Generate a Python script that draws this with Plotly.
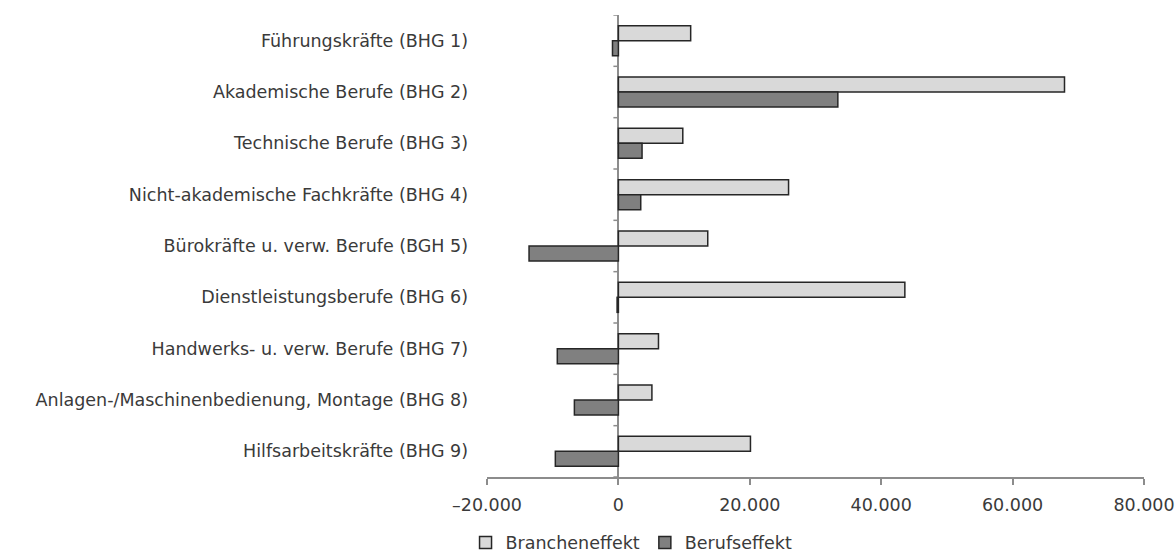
import plotly.graph_objects as go

categories = [
    "Führungskräfte (BHG 1)",
    "Akademische Berufe (BHG 2)",
    "Technische Berufe (BHG 3)",
    "Nicht-akademische Fachkräfte (BHG 4)",
    "Bürokräfte u. verw. Berufe (BGH 5)",
    "Dienstleistungsberufe (BHG 6)",
    "Handwerks- u. verw. Berufe (BHG 7)",
    "Anlagen-/Maschinenbedienung, Montage (BHG 8)",
    "Hilfsarbeitskräfte (BHG 9)",
]
branche = [11000, 67900, 9800, 25900, 13600, 43600, 6100, 5100, 20100]
beruf = [-900, 33400, 3600, 3400, -13600, -200, -9300, -6700, -9600]

tick_vals = [-20000, 0, 20000, 40000, 60000, 80000]
tick_text = ["\u201320.000", "0", "20.000", "40.000", "60.000", "80.000"]

FONT = "DejaVu Sans"
FS = 17.5
TXT = "#3a3a3a"
AX = "#8c8c8c"

fig = go.Figure()
fig.add_trace(go.Bar(
    y=categories, x=branche, orientation="h", name="Brancheneffekt",
    marker=dict(color="#d9d9d9", line=dict(color="#262626", width=1.5)),
))
fig.add_trace(go.Bar(
    y=categories, x=beruf, orientation="h", name="Berufseffekt",
    marker=dict(color="#808080", line=dict(color="#262626", width=1.5)),
))

# tick marks on the vertical (zero) axis at category boundaries
shapes = []
for i in range(len(categories) + 1):
    shapes.append(dict(
        type="line", xref="x", yref="y", xsizemode="pixel", xanchor=0,
        x0=-5, x1=0, y0=i - 0.5, y1=i - 0.5,
        line=dict(color=AX, width=1.5),
    ))

fig.update_layout(
    width=1175, height=552,
    margin=dict(l=487, r=31, t=15, b=75),
    paper_bgcolor="white", plot_bgcolor="white",
    barmode="group", bargap=0.415, bargroupgap=0,
    font=dict(family=FONT, size=FS, color=TXT),
    showlegend=True,
    legend=dict(orientation="h", x=0.22, xanchor="center",
                yref="container", y=0.017, yanchor="middle",
                font=dict(family=FONT, size=FS, color=TXT), traceorder="normal",
                itemwidth=30, tracegroupgap=0),
    shapes=shapes,
    xaxis=dict(
        range=[-20000, 80000], tickvals=tick_vals, ticktext=tick_text,
        showgrid=False, zeroline=True, zerolinecolor=AX, zerolinewidth=1.5,
        showline=True, linecolor=AX, linewidth=1.5,
        ticks="outside", ticklen=6, tickcolor=AX, tickwidth=1.5,
        ticklabelstandoff=5, automargin=False,
        tickfont=dict(family=FONT, size=FS, color=TXT),
    ),
    yaxis=dict(
        range=[len(categories) - 0.5, -0.5], showgrid=False, zeroline=False,
        showline=False, ticks="", ticklabelstandoff=18, automargin=False,
        tickfont=dict(family=FONT, size=FS, color=TXT),
    ),
)

fig.write_html(
    "out.html",
    config={"displayModeBar": False},
    post_script="document.body.style.margin='0';document.body.style.overflow='hidden';",
)
